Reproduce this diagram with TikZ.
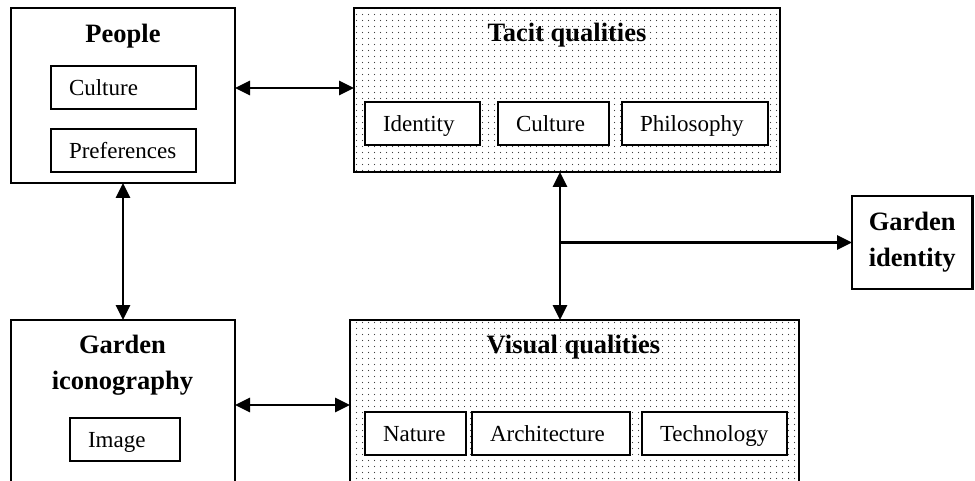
\documentclass[tikz,border=0pt]{standalone}
\usepackage{fontspec}
\setmainfont{Liberation Serif}
\usetikzlibrary{arrows.meta,patterns}
\pgfdeclarepatternformonly{sparsedots}{\pgfpointorigin}{\pgfpoint{6pt}{5.5pt}}{\pgfpoint{6pt}{5.5pt}}{\pgfpathcircle{\pgfpoint{3pt}{2.75pt}}{0.7pt}\pgfusepath{fill}}
\begin{document}
\begin{tikzpicture}[x=1pt,y=-1pt,
  outerbox/.style={draw, line width=2.6pt, inner sep=0pt, outer sep=0pt},
  dotbox/.style={outerbox, pattern=sparsedots, pattern color=black!75},
  innerbox/.style={draw, line width=1.4pt, fill=white, inner xsep=18pt, inner ysep=0pt,
    outer sep=0pt, align=left, text height=16pt, text depth=0pt, font=\fontsize{23}{28}\selectfont},
  titletext/.style={inner sep=0pt, align=center, font=\fontsize{26.5}{36}\selectfont\bfseries},
  arr/.style={line width=2.8pt, {Triangle[length=15pt,width=14pt]}-{Triangle[length=15pt,width=14pt]}},
  arrone/.style={line width=2.8pt, -{Triangle[length=15pt,width=14pt]}}
]
\path[use as bounding box] (0,0) rectangle (975,481);
\clip (0,0) rectangle (975,481);

% outer boxes
\node[outerbox, minimum width=224pt, minimum height=175pt] (people) at (123,95.5) {};
\node[dotbox, minimum width=426pt, minimum height=164pt] (tacit) at (567,90) {};
\node[outerbox, minimum width=120.5pt, minimum height=93pt, titletext, line width=2.6pt] (gid) at (912.25,242.5) {Garden\\identity};
\node[outerbox, minimum width=224pt, minimum height=220pt] (icon) at (123,430) {};
\node[dotbox, minimum width=449pt, minimum height=220pt] (visual) at (574.5,430) {};

% titles
\node[titletext, anchor=base] (peopletitle) at (123,43) {People};
\node[titletext, anchor=base] (tacittitle) at (567,42) {Tacit qualities};
\node[titletext, anchor=base] (visualtitle) at (573.5,353) {Visual qualities};
\node[titletext] (icontitle) at (122.5,365) {Garden\\iconography};

% inner boxes
\node[innerbox, text width=109pt, minimum height=43pt] (pculture) at (123.5,87.5) {Culture};
\node[innerbox, text width=109pt, minimum height=43pt] (ppref) at (123.5,150.5) {Preferences};
\node[innerbox, text width=79pt, minimum height=43pt] (tident) at (422.5,123.5) {Identity};
\node[innerbox, text width=75pt, minimum height=43pt] (tcult) at (553.5,123.5) {Culture};
\node[innerbox, text width=110pt, minimum height=43pt] (tphil) at (695,123.5) {Philosophy};
\node[innerbox, text width=74pt, minimum height=43pt] (iimage) at (125,439.5) {Image};
\node[innerbox, text width=65pt, minimum height=43pt] (vnat) at (415.5,433.5) {Nature};
\node[innerbox, text width=122pt, minimum height=43pt] (varch) at (551,433.5) {Architecture};
\node[innerbox, text width=109pt, minimum height=43pt] (vtech) at (714.5,433.5) {Technology};

% connectors
\coordinate (rowone) at (0,88);
\coordinate (rowtwo) at (0,405);
\coordinate (vx) at (560,0);
\coordinate (branch) at (560,242.5);
\draw[arr] (people.east |- rowone) -- (tacit.west |- rowone);
\draw[arr] (icon.east |- rowtwo) -- (visual.west |- rowtwo);
\draw[arr] (people.south) -- (icon.north);
\draw[arr] (tacit.south -| vx) -- (visual.north -| vx);
\draw[arrone] (branch) -- (gid.west);
\end{tikzpicture}
\end{document}
